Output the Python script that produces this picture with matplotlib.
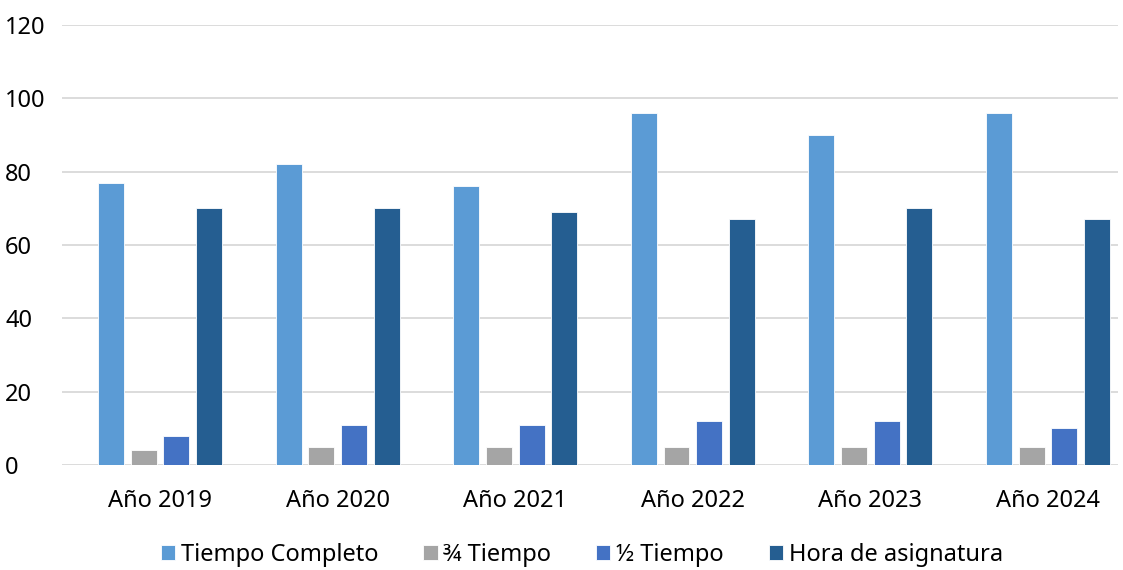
import matplotlib.pyplot as plt
import numpy as np

plt.rcParams['font.family'] = ['Noto Sans', 'DejaVu Sans']

years = ["Año 2019", "Año 2020", "Año 2021", "Año 2022", "Año 2023", "Año 2024"]
tiempo_completo = [77, 82, 76, 96, 90, 96]
tres_cuartos = [4, 5, 5, 5, 5, 5]
medio_tiempo = [8, 11, 11, 12, 12, 10]
hora_asignatura = [70, 70, 69, 67, 70, 67]

series = [
    ("Tiempo Completo", tiempo_completo, "#5B9BD5"),
    ("¾ Tiempo", tres_cuartos, "#A5A5A5"),
    ("½ Tiempo", medio_tiempo, "#4472C4"),
    ("Hora de asignatura", hora_asignatura, "#255E91"),
]

fig = plt.figure(figsize=(11.23, 5.70), dpi=100)
ax = fig.add_axes([62 / 1123, 1 - 465 / 570, (1118 - 62) / 1123, 440 / 570])

x = np.arange(len(years))
step = 0.184
width = 0.146
for i, (name, vals, col) in enumerate(series):
    ax.bar(x + (i - 1.5) * step, vals, width, color=col, label=name,
           edgecolor="white", linewidth=0.6, zorder=3)

ax.set_ylim(0, 120)
ax.set_yticks(range(0, 121, 20))
ax.set_xlim(-0.552, 5.394)
ax.set_xticks(x)
ax.set_xticklabels(years)
ax.grid(axis="y", color="#D9D9D9", linewidth=1.3, zorder=0)
for s in ax.spines.values():
    s.set_visible(False)
ax.tick_params(axis="both", length=0, labelsize=17, colors="#000000")
ax.tick_params(axis="x", pad=17)
ax.tick_params(axis="y", pad=41)
for tick in ax.yaxis.get_major_ticks():
    tick.label1.set_horizontalalignment("left")

ax.legend(loc="center", bbox_to_anchor=(582 / 1123, 1 - 555 / 570),
          bbox_transform=fig.transFigure, ncol=4, frameon=False,
          fontsize=17, handlelength=0.6, handleheight=0.6,
          handletextpad=0.25, columnspacing=1.9)

fig.savefig("out.png", dpi=100)
